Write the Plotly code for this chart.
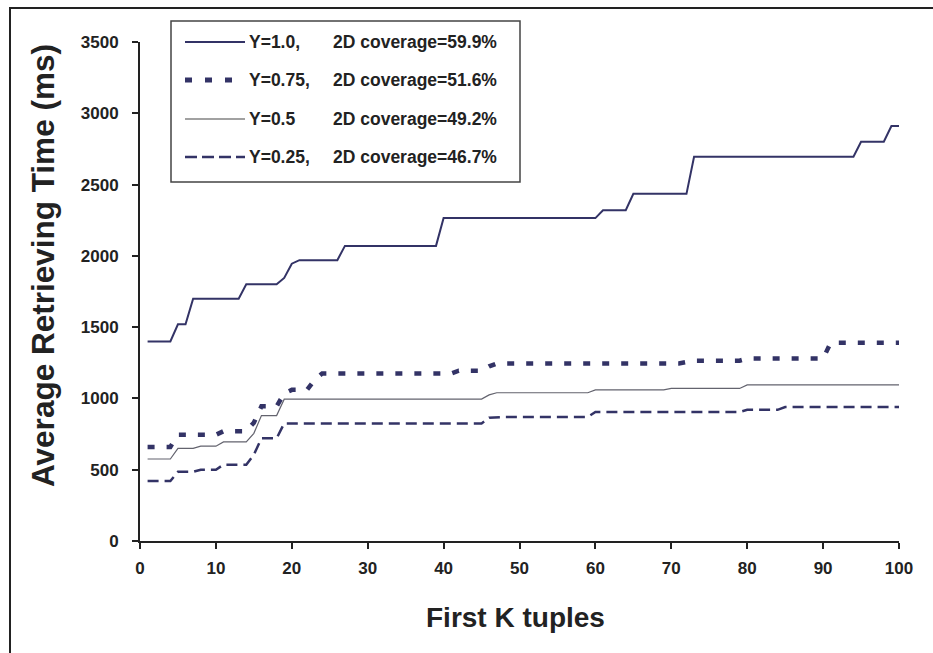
import plotly.graph_objects as go

# ---- data: average retrieving time (ms) for the first K tuples, K = 1..100 ----
k_values = list(range(1, 101))

time_y100 = ([1400] * 4 + [1520] * 2 + [1700] * 7 + [1800] * 5 + [1845] + [1945]
             + [1970] * 6 + [2070] * 13 + [2265] * 21 + [2320] * 4 + [2435] * 8
             + [2695] * 22 + [2800] * 4 + [2910] * 2)

time_y075 = ([660] * 4 + [745] * 6 + [770] * 4 + [830] + [945] * 3 + [1035]
             + [1060] * 3 + [1130] + [1175] * 18 + [1195] * 4 + [1225]
             + [1245] * 25 + [1255] + [1265] * 7 + [1280] * 11 + [1390] * 10)

time_y050 = ([575] * 4 + [650] * 3 + [665] * 3 + [695] * 4 + [755] + [880] * 3
             + [995] * 27 + [1025] + [1040] * 13 + [1060] * 10 + [1070] * 10
             + [1095] * 21)

time_y025 = ([420] * 4 + [485] * 3 + [500] * 3 + [535] * 4 + [605] + [720] * 3
             + [825] * 27 + [865] + [870] * 13 + [905] * 20 + [920] * 5
             + [940] * 16)

series_labels = ["Y=1.0,", "Y=0.75,", "Y=0.5", "Y=0.25,"]
coverage_labels = ["2D coverage=59.9%", "2D coverage=51.6%",
                   "2D coverage=49.2%", "2D coverage=46.7%"]

x_ticks = list(range(0, 101, 10))
y_ticks = list(range(0, 3501, 500))

# ---- styling ----
NAVY = "#333366"
FONT = "Liberation Sans"
W, H = 933, 653
L, R, T, B = 140, 34, 42, 112
PW, PH = W - L - R, H - T - B

styles = [
    dict(color=NAVY, width=2, dash="solid"),
    dict(color=NAVY, width=4.5, dash="7px,12px"),
    dict(color="#63636e", width=1.2, dash="solid"),
    dict(color=NAVY, width=2.5, dash="11px,6px"),
]
legend_styles = [
    dict(color=NAVY, width=2, dash="solid"),
    dict(color=NAVY, width=5, dash="7px,13px"),
    dict(color="#444444", width=1.2, dash="solid"),
    dict(color=NAVY, width=2.5, dash="12px,5px"),
]


def px_x(px):
    return (px - L) / PW


def px_y(py):
    return (H - B - py) / PH


fig = go.Figure()
for values, st in zip([time_y100, time_y075, time_y050, time_y025], styles):
    fig.add_trace(go.Scatter(x=k_values, y=values, mode="lines",
                             line=st, showlegend=False, hoverinfo="skip"))

shapes = []
annotations = []

# outer frame around the whole chart
shapes.append(dict(type="rect", xref="paper", yref="paper",
                   x0=px_x(10), x1=px_x(W + 40), y0=px_y(H + 40), y1=px_y(8),
                   line=dict(color="#222222", width=2), fillcolor="rgba(0,0,0,0)",
                   layer="above"))

# legend box
shapes.append(dict(type="rect", xref="paper", yref="paper",
                   x0=px_x(171), x1=px_x(520), y0=px_y(182), y1=px_y(21),
                   line=dict(color="#444444", width=1.5), fillcolor="white",
                   layer="above"))

legend_font = dict(family=FONT, size=17.5, color="#222222", weight="bold")
row_y = [42, 80, 119, 157]
for ry, st, lab, cov in zip(row_y, legend_styles, series_labels, coverage_labels):
    shapes.append(dict(type="line", xref="paper", yref="paper",
                       x0=px_x(185), x1=px_x(245), y0=px_y(ry), y1=px_y(ry),
                       line=st, layer="above"))
    annotations.append(dict(text=lab, xref="paper", yref="paper",
                            x=px_x(247), y=px_y(ry), xanchor="left", yanchor="middle",
                            showarrow=False, font=legend_font))
    annotations.append(dict(text=cov, xref="paper", yref="paper",
                            x=px_x(331), y=px_y(ry), xanchor="left", yanchor="middle",
                            showarrow=False, font=legend_font))

# axis titles
annotations.append(dict(text="Average Retrieving Time (ms)", xref="paper", yref="paper",
                        x=px_x(43), y=px_y(266), xanchor="center", yanchor="middle",
                        textangle=-90, showarrow=False,
                        font=dict(family=FONT, size=31.5, color="#222222", weight="bold")))
annotations.append(dict(text="First K tuples", xref="paper", yref="paper",
                        x=px_x(515), y=px_y(617), xanchor="center", yanchor="middle",
                        showarrow=False,
                        font=dict(family=FONT, size=28, color="#222222", weight="bold")))

axis_common = dict(showline=True, linecolor="#222222", linewidth=2,
                   ticks="outside", ticklen=6, tickwidth=2, tickcolor="#222222",
                   showgrid=False, zeroline=False, automargin=False,
                   tickfont=dict(family=FONT, size=17, color="#222222", weight="bold"))

fig.update_layout(
    width=W, height=H,
    margin=dict(l=L, r=R, t=T, b=B, pad=0),
    paper_bgcolor="white", plot_bgcolor="white",
    shapes=shapes, annotations=annotations,
    xaxis=dict(range=[0, 100], tickmode="array", tickvals=x_ticks,
               ticklabelstandoff=5, **axis_common),
    yaxis=dict(range=[0, 3500], tickmode="array", tickvals=y_ticks,
               ticklabelstandoff=10, **axis_common),
)

fig.write_html("out.html")
